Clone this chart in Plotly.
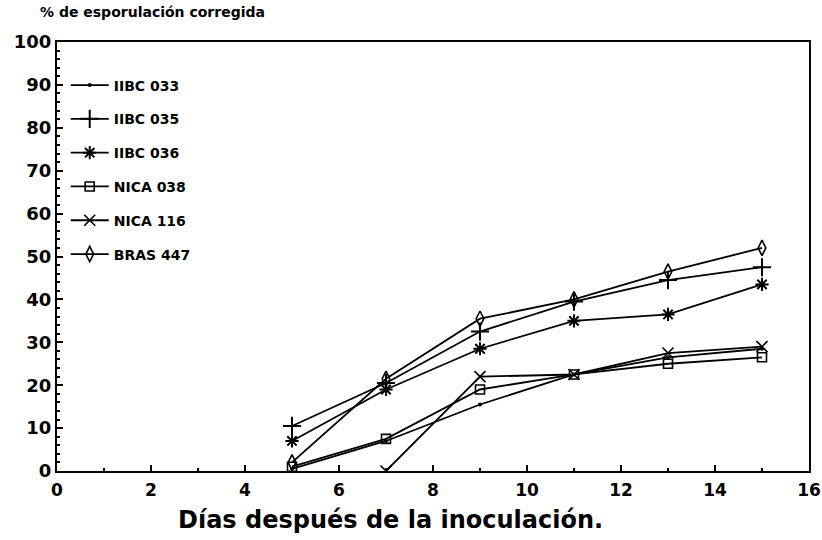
import plotly.graph_objects as go

days = [5, 7, 9, 11, 13, 15]
series_names = ["IIBC 033", "IIBC 035", "IIBC 036", "NICA 038", "NICA 116", "BRAS 447"]
iibc033 = [0.5, 7, 15.5, 22.5, 26.5, 28.5]
iibc035 = [10.5, 20.5, 32.5, 39.5, 44.5, 47.5]
iibc036 = [7, 19, 28.5, 35, 36.5, 43.5]
nica038 = [1, 7.5, 19, 22.5, 25, 26.5]
nica116_days = [7, 9, 11, 13, 15]
nica116 = [0, 22, 22.5, 27.5, 29]
bras447 = [2, 21.5, 35.5, 40, 46.5, 52]
x_ticks = [0, 2, 4, 6, 8, 10, 12, 14, 16]
y_ticks = [0, 10, 20, 30, 40, 50, 60, 70, 80, 90, 100]
y_title = "% de esporulación corregida"
x_title = "Días después de la inoculación."

FONT = "DejaVu Sans"
series = [
    (series_names[0], days, iibc033, dict(symbol="circle", size=4, color="black")),
    (series_names[1], days, iibc035, dict(symbol="cross-thin-open", size=13, line=dict(width=2, color="black"), color="black")),
    (series_names[2], days, iibc036, dict(symbol="asterisk-open", size=11, line=dict(width=2, color="black"), color="black")),
    (series_names[3], days, nica038, dict(symbol="square-open", size=9, line=dict(width=1.6, color="black"), color="black")),
    (series_names[4], nica116_days, nica116, dict(symbol="x-thin-open", size=11, line=dict(width=1.6, color="black"), color="black")),
    (series_names[5], days, bras447, dict(symbol="diamond-tall-open", size=11, line=dict(width=1.6, color="black"), color="black")),
]

fig = go.Figure()
for i, (name, xs, ys, mk) in enumerate(series):
    fig.add_trace(go.Scatter(
        x=xs, y=ys, name=name, mode="lines+markers",
        line=dict(color="black", width=1.8), marker=mk,
        legendgroup=f"g{i}",
    ))

axis_common = dict(
    showline=True, linecolor="black", linewidth=2, mirror=True,
    ticks="inside", ticklen=6, tickwidth=1.5, tickcolor="black",
    showgrid=False, zeroline=False, automargin=False,
    ticklabeloverflow="allow",
)

fig.update_xaxes(range=[0, 16], tickvals=x_ticks, **axis_common,
                 ticklabelstandoff=3,
                 tickfont=dict(family=FONT, size=17, color="black", weight="bold"),
                 minor=dict(ticks="inside", ticklen=3, dtick=1, tickcolor="black"))
fig.update_yaxes(range=[0, 100], tickvals=y_ticks, **axis_common,
                 tickfont=dict(family=FONT, size=18, color="black", weight="bold"),
                 minor=dict(ticks="inside", ticklen=3, dtick=2, tickcolor="black"))

fig.add_annotation(text=x_title, xref="paper", yref="paper",
                   x=(390 - 57) / 752, y=(471 - 520) / 429,
                   xanchor="center", yanchor="middle", showarrow=False,
                   font=dict(family=FONT, size=24, color="black", weight="bold"))

fig.update_layout(
    width=822, height=540,
    margin=dict(l=57, r=13, t=42, b=69),
    paper_bgcolor="white", plot_bgcolor="white",
    title=dict(text=y_title, xref="container", yref="container",
               x=40/822, y=1-12/540, xanchor="left", yanchor="middle",
               font=dict(family=FONT, size=14, color="black", weight="bold")),
    legend=dict(x=0.0116, y=0.936, xanchor="left", yanchor="top",
                bgcolor="rgba(0,0,0,0)", tracegroupgap=12.6,
                font=dict(family=FONT, size=14, color="black", weight="bold"),
                itemwidth=38),
    showlegend=True,
)

fig.write_html("out.html", config={"displayModeBar": False},
               post_script="document.body.style.margin='0';document.body.style.padding='0';")
